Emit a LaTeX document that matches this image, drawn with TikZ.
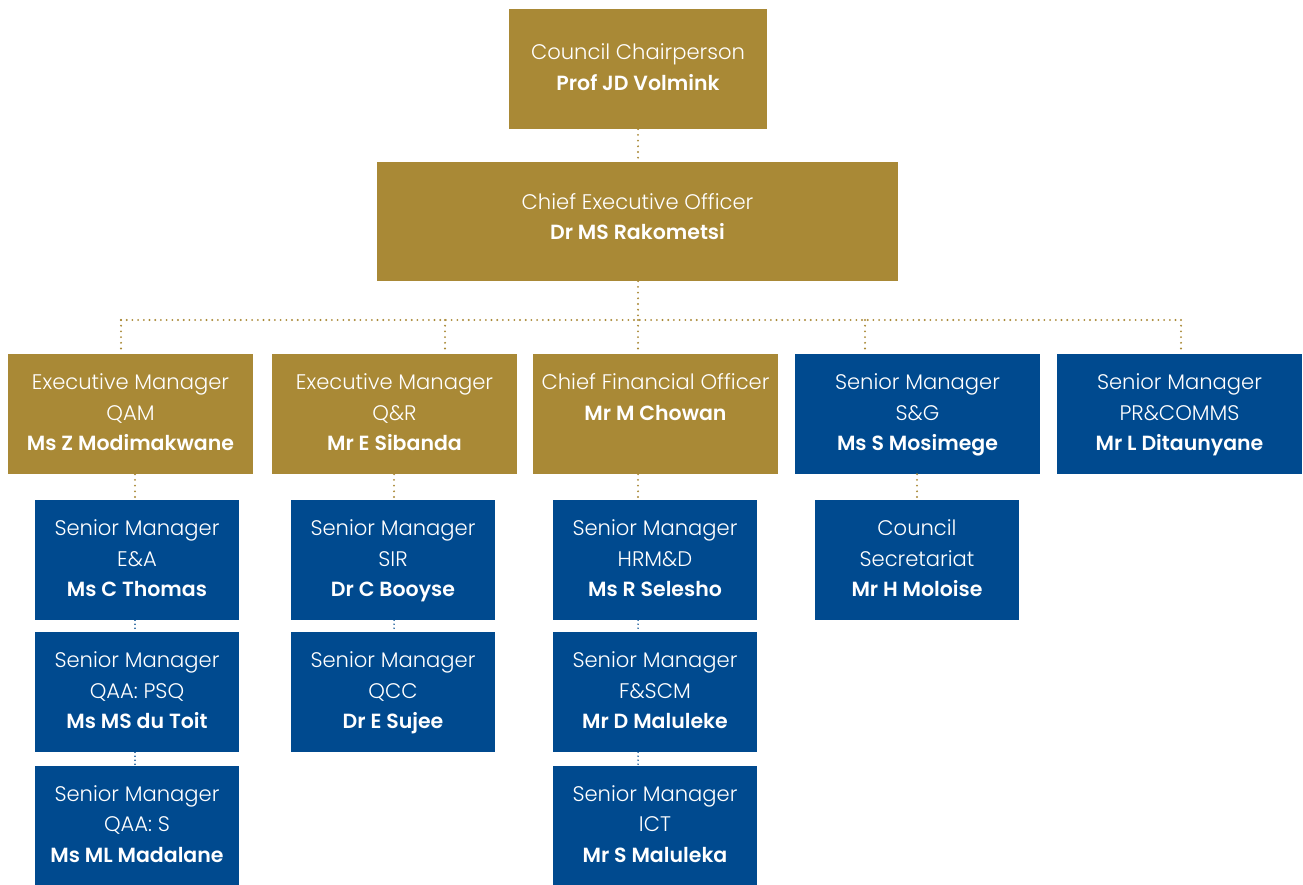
\documentclass[tikz,border=0pt]{standalone}
\usepackage{fontspec}
\setmainfont{Poppins}[UprightFont={* Light},BoldFont={* SemiBold}]
\definecolor{gold}{HTML}{A98936}
\definecolor{navy}{HTML}{004A8F}
\newcommand{\nmtext}[1]{{\fontsize{20.5}{30.5}\selectfont\bfseries #1}}
\newcommand{\threeline}[3]{\strut #1\\#2\\\nmtext{#3}\strut}
\newcommand{\twoline}[2]{\strut #1\\\nmtext{#2}\strut}
\begin{document}
\begin{tikzpicture}[x=1pt,y=-1pt,
  box/.style={rectangle,inner sep=0pt,text=white,align=center,
    font=\fontsize{21.1}{30.5}\selectfont},
  goldbox/.style={box,fill=gold},
  bluebox/.style={box,fill=navy},
  subbox/.style={bluebox,minimum width=204pt,minimum height=120pt},
  rowbox/.style={minimum width=245pt,minimum height=120pt},
  golddot/.style={draw=gold,line width=2.1pt,line cap=round,dash pattern=on 0pt off 5.7pt},
  bluedot/.style={draw=navy,line width=1.6pt,line cap=round,dash pattern=on 0pt off 4pt}]
\useasboundingbox (0,0) rectangle (1303,885);
% top
\node[goldbox,minimum width=258pt,minimum height=120pt] (chair) at (638,69)
  {\twoline{Council Chairperson}{Prof JD Volmink}};
\node[goldbox,minimum width=521pt,minimum height=119pt,text depth=0pt] (ceo) at (637.5,221.5)
  {};
\node[box,anchor=center] (ceotext) at (637.5,218.5) {\twoline{Chief Executive Officer}{Dr MS Rakometsi}};
% row
\node[goldbox,rowbox] (b1) at (130.5,414) {\threeline{Executive Manager}{QAM}{Ms Z Modimakwane}};
\node[goldbox,rowbox] (b2) at (394.5,414) {\threeline{Executive Manager}{Q\&R}{Mr E Sibanda}};
\node[goldbox,rowbox] (b3) at (655.5,414) {\threeline{Chief Financial Officer}{\nmtext{Mr M Chowan}}{}};
\node[bluebox,rowbox] (b4) at (917.5,414) {\threeline{Senior Manager}{S\&G}{Ms S Mosimege}};
\node[bluebox,rowbox] (b5) at (1179.5,414) {\threeline{Senior Manager}{PR\&COMMS}{Mr L Ditaunyane}};
% column 1
\node[subbox] (c11) at (137,560) {\threeline{Senior Manager}{E\&A}{Ms C Thomas}};
\node[subbox] (c12) at (137,692) {\threeline{Senior Manager}{QAA: PSQ}{Ms MS du Toit}};
\node[subbox,minimum height=119pt] (c13) at (137,825.5) {\threeline{Senior Manager}{QAA: S}{Ms ML Madalane}};
% column 2
\node[subbox] (c21) at (393,560) {\threeline{Senior Manager}{SIR}{Dr C Booyse}};
\node[subbox] (c22) at (393,692) {\threeline{Senior Manager}{QCC}{Dr E Sujee}};
% column 3
\node[subbox] (c31) at (655,560) {\threeline{Senior Manager}{HRM\&D}{Ms R Selesho}};
\node[subbox] (c32) at (655,692) {\threeline{Senior Manager}{F\&SCM}{Mr D Maluleke}};
\node[subbox,minimum height=119pt] (c33) at (655,825.5) {\threeline{Senior Manager}{ICT}{Mr S Maluleka}};
% column 4
\node[subbox] (c41) at (917,560) {\threeline{Council}{Secretariat}{Mr H Moloise}};
% connectors
\coordinate (busC) at (638,320);
\coordinate (bus1) at (121,320);
\coordinate (bus2) at (445,320);
\coordinate (bus4) at (865,320);
\coordinate (bus5) at (1181,320);
\draw[golddot] (chair.south -| busC) -- (ceo.north -| busC);
\draw[golddot] (ceo.south -| busC) -- (busC);
\draw[golddot] (bus1) -- (bus5);
\draw[golddot] (bus1) -- (b1.north -| bus1);
\draw[golddot] (bus2) -- (b2.north -| bus2);
\draw[golddot] (busC) -- (b3.north -| busC);
\draw[golddot] (bus4) -- (b4.north -| bus4);
\draw[golddot] (bus5) -- (b5.north -| bus5);
\coordinate (x1) at (135,0);
\coordinate (x2) at (394,0);
\coordinate (x3) at (638,0);
\coordinate (x4) at (917,0);
\draw[golddot] (b1.south -| x1) -- (c11.north -| x1);
\draw[golddot] (b2.south -| x2) -- (c21.north -| x2);
\draw[golddot] (b3.south -| x3) -- (c31.north -| x3);
\draw[golddot] (b4.south -| x4) -- (c41.north -| x4);
\draw[bluedot] (c11.south -| x1) -- (c12.north -| x1);
\draw[bluedot] (c12.south -| x1) -- (c13.north -| x1);
\draw[bluedot] (c21.south -| x2) -- (c22.north -| x2);
\draw[bluedot] (c31.south -| x3) -- (c32.north -| x3);
\draw[bluedot] (c32.south -| x3) -- (c33.north -| x3);
\end{tikzpicture}
\end{document}
